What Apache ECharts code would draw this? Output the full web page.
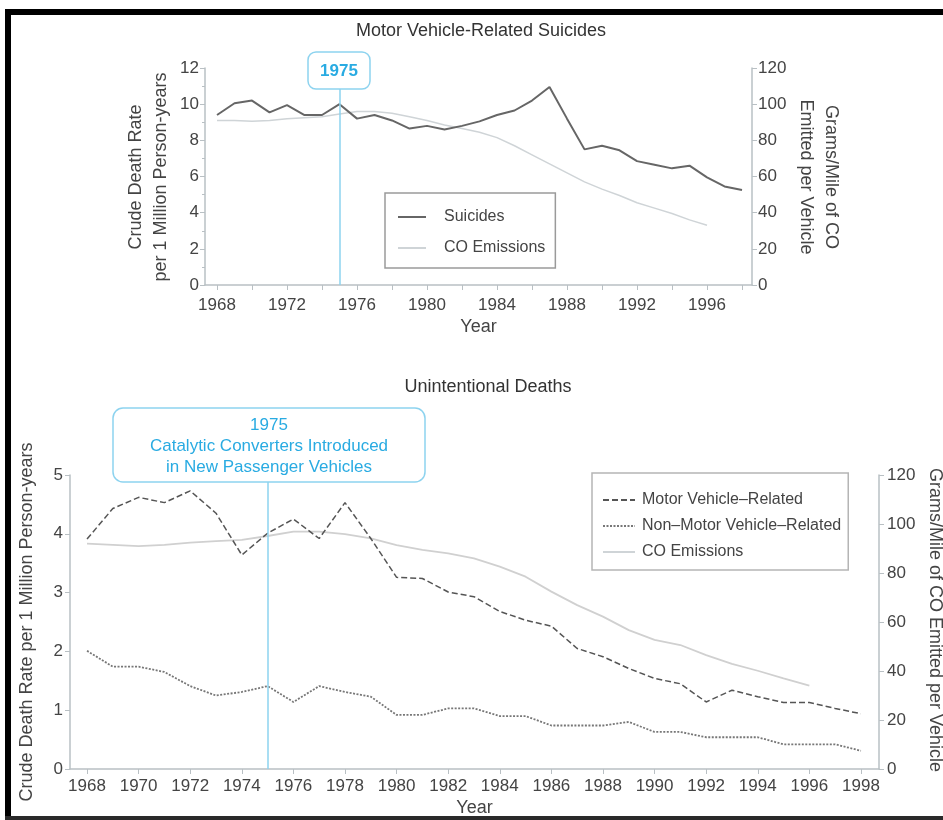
<!DOCTYPE html>
<html>
<head>
<meta charset="utf-8">
<script src="https://cdn.jsdelivr.net/npm/echarts@6/dist/echarts.min.js"></script>
<style>
html,body{margin:0;padding:0;background:#fff;}
#chart{width:943px;height:820px;}
</style>
</head>
<body>
<div id="chart"></div>
<script>
// ---- Data ----
const years = [1968,1969,1970,1971,1972,1973,1974,1975,1976,1977,1978,1979,1980,1981,1982,1983,1984,1985,1986,1987,1988,1989,1990,1991,1992,1993,1994,1995,1996,1997,1998];
const coYears = [1968,1969,1970,1971,1972,1973,1974,1975,1976,1977,1978,1979,1980,1981,1982,1983,1984,1985,1986,1987,1988,1989,1990,1991,1992,1993,1994,1995,1996];

// Top chart: Motor Vehicle-Related Suicides
const suicideRate = [9.4,10.05,10.2,9.55,9.95,9.4,9.4,10.0,9.2,9.4,9.1,8.65,8.8,8.6,8.8,9.05,9.4,9.65,10.2,10.95,9.2,7.5,7.7,7.45,6.85,6.65,6.45,6.6,5.95,5.45,5.25];
const suicideCO = [91,91,90.5,91,92,92.5,93,94.5,96,96,95,93,91,88.5,86.5,84.5,81.5,77,72,67,62,57,53,49.5,45.5,42.5,39.5,36,33];

// Bottom chart: Unintentional Deaths
const motorVehicle = [3.91,4.43,4.62,4.53,4.73,4.35,3.64,4.01,4.25,3.92,4.53,3.92,3.26,3.24,3.01,2.93,2.68,2.53,2.43,2.05,1.91,1.71,1.54,1.45,1.14,1.34,1.23,1.13,1.13,1.03,0.94];
const nonMotorVehicle = [2.01,1.74,1.74,1.65,1.41,1.25,1.31,1.41,1.14,1.41,1.31,1.23,0.92,0.92,1.03,1.03,0.9,0.9,0.74,0.74,0.74,0.8,0.63,0.63,0.54,0.54,0.54,0.42,0.42,0.42,0.31];
const deathsCO = [92,91.5,91,91.5,92.4,93,93.5,95.1,96.9,96.9,95.9,94.1,91.4,89.4,88,86,82.6,78.5,72.4,66.9,62.2,56.7,52.7,50.6,46.5,42.9,40.1,37,34];

// Tick labels
const topXTicks = [1968,1970,1972,1974,1976,1978,1980,1982,1984,1986,1988,1990,1992,1994,1996,1998];
const topXLabels = [1968,1972,1976,1980,1984,1988,1992,1996];
const botXTicks = [1968,1970,1972,1974,1976,1978,1980,1982,1984,1986,1988,1990,1992,1994,1996,1998];
const botXLabels = [1968,1970,1972,1974,1976,1978,1980,1982,1984,1986,1988,1990,1992,1994,1996,1998];

// Axis titles
const topLeftName = 'Crude Death Rate\nper 1 Million Person-years';
const topRightName = 'Grams/Mile of CO\nEmitted per Vehicle';
const botLeftName = 'Crude Death Rate per 1 Million Person-years';
const botRightName = 'Grams/Mile of CO Emitted per Vehicle';

const pairs = (xs, vs) => xs.map((x, i) => [x, vs[i]]);

const FONT = '"Liberation Sans", Arial, sans-serif';
const AXIS_COLOR = '#b9c0c4';
const LABEL_COLOR = '#444';
const BLUE_LINE = '#8dd3ef';
const BLUE_TEXT = '#29abe2';

function xAxisCfg(gridIndex, min, max, ticks, labels, margin, nameGap) {
  return {
    type: 'value', gridIndex, min, max,
    name: 'Year', nameLocation: 'middle', nameGap,
    nameTextStyle: {fontFamily: FONT, fontSize: 18, color: LABEL_COLOR},
    axisLine: {show: true, lineStyle: {color: AXIS_COLOR, width: 1.5}},
    axisTick: {show: true, length: 5, lineStyle: {color: AXIS_COLOR}, customValues: ticks},
    axisLabel: {fontFamily: FONT, fontSize: 17, color: LABEL_COLOR, margin, customValues: labels,
                formatter: v => String(Math.round(v))},
    splitLine: {show: false}
  };
}
function yAxisCfg(gridIndex, position, max, interval, margin, minor) {
  return {
    type: 'value', gridIndex, position, min: 0, max, interval,
    axisLine: {show: true, lineStyle: {color: AXIS_COLOR, width: 1.5}},
    axisTick: {show: true, length: 5, lineStyle: {color: AXIS_COLOR}},
    minorTick: {show: !!minor, splitNumber: 2, length: 3, lineStyle: {color: AXIS_COLOR}},
    axisLabel: {fontFamily: FONT, fontSize: 17, color: LABEL_COLOR, margin},
    splitLine: {show: false}
  };
}
function axisTitle(text, x, y, rot) {
  return {type: 'text', x, y, rotation: rot, silent: true, z: 50,
    style: {text, fill: LABEL_COLOR, font: '18px ' + FONT, lineHeight: 25, align: 'center', verticalAlign: 'middle'}};
}

const markLine1975 = {
  silent: true, symbol: ['none', 'none'], animation: false,
  label: {show: false},
  lineStyle: {color: BLUE_LINE, width: 1.5, type: 'solid'},
  data: [{xAxis: 1975}]
};

const option = {
  animation: false,
  backgroundColor: '#fff',
  title: [
    {text: 'Motor Vehicle-Related Suicides', left: 476, top: 17, textAlign: 'center',
     textStyle: {fontFamily: FONT, fontSize: 18, fontWeight: 'normal', color: '#333'}},
    {text: 'Unintentional Deaths', left: 483, top: 373, textAlign: 'center',
     textStyle: {fontFamily: FONT, fontSize: 18, fontWeight: 'normal', color: '#333'}}
  ],
  grid: [
    {left: 205, top: 68, width: 547, height: 217, outerBoundsMode: 'none', containLabel: false},
    {left: 70, top: 475, width: 809, height: 294, outerBoundsMode: 'none', containLabel: false}
  ],
  xAxis: [
    xAxisCfg(0, 1967.314, 1998.571, topXTicks, topXLabels, 12, 33),
    xAxisCfg(1, 1967.34, 1998.7, botXTicks, botXLabels, 9, 30)
  ],
  yAxis: [
    yAxisCfg(0, 'left', 12, 2, 6, true),
    yAxisCfg(0, 'right', 120, 20, 6, false),
    yAxisCfg(1, 'left', 5, 1, 7, false),
    yAxisCfg(1, 'right', 120, 20, 8, false)
  ],
  legend: [
    {
      data: ['Suicides', 'CO Emissions'],
      orient: 'vertical', left: 385, top: 193,
      padding: [15, 10, 11, 12], itemGap: 13, itemWidth: 28, itemHeight: 14,
      itemStyle: {opacity: 0},
      borderColor: '#9a9a9a', borderWidth: 1.5, selectedMode: false,
      textStyle: {fontFamily: FONT, fontSize: 16, color: LABEL_COLOR, lineHeight: 18, padding: [0, 0, 0, 13]}
    },
    {
      data: ['Motor Vehicle\u2013Related', 'Non\u2013Motor Vehicle\u2013Related', 'CO Emissions'],
      orient: 'vertical', left: 592, top: 473,
      padding: [18, 7, 9, 10], itemGap: 8, itemWidth: 32, itemHeight: 14,
      itemStyle: {opacity: 0},
      borderColor: '#b5b5b5', borderWidth: 1.5, selectedMode: false,
      textStyle: {fontFamily: FONT, fontSize: 16, color: LABEL_COLOR, lineHeight: 18, padding: [0, 0, 0, 2]}
    }
  ],
  series: [
    {
      name: 'Suicides', type: 'line', xAxisIndex: 0, yAxisIndex: 0,
      symbol: 'none', data: pairs(years, suicideRate),
      lineStyle: {color: '#666', width: 2}, itemStyle: {color: '#666'},
      markLine: markLine1975, z: 3
    },
    {
      name: 'CO Emissions', type: 'line', xAxisIndex: 0, yAxisIndex: 1,
      symbol: 'none', data: pairs(coYears, suicideCO),
      lineStyle: {color: '#cfd4d7', width: 1.5}, itemStyle: {color: '#cfd4d7'}, z: 2
    },
    {
      name: 'Motor Vehicle\u2013Related', type: 'line', xAxisIndex: 1, yAxisIndex: 2,
      symbol: 'none', data: pairs(years, motorVehicle),
      lineStyle: {color: '#555', width: 1.5, type: [6, 3]}, itemStyle: {color: '#555'},
      markLine: markLine1975, z: 3
    },
    {
      name: 'Non\u2013Motor Vehicle\u2013Related', type: 'line', xAxisIndex: 1, yAxisIndex: 2,
      symbol: 'none', data: pairs(years, nonMotorVehicle),
      lineStyle: {color: '#777', width: 1.8, type: [2, 1.5]}, itemStyle: {color: '#777'}, z: 3
    },
    {
      name: 'CO Emissions', type: 'line', xAxisIndex: 1, yAxisIndex: 3,
      symbol: 'none', data: pairs(coYears, deathsCO),
      lineStyle: {color: '#d0d0d0', width: 1.8}, itemStyle: {color: '#d0d0d0'}, z: 2
    }
  ],
  graphic: [
    // axis titles
    axisTitle(topLeftName, 148.5, 177, Math.PI / 2),
    axisTitle(topRightName, 818.5, 177, -Math.PI / 2),
    axisTitle(botLeftName, 27, 622, Math.PI / 2),
    axisTitle(botRightName, 935, 620, -Math.PI / 2),
    // frame
    {type: 'rect', shape: {x: 5, y: 9, width: 938, height: 6}, style: {fill: '#000'}, z: 200, silent: true},
    {type: 'rect', shape: {x: 5, y: 9, width: 6, height: 811}, style: {fill: '#000'}, z: 200, silent: true},
    {type: 'rect', shape: {x: 5, y: 816, width: 938, height: 4}, style: {fill: '#2a2a2a'}, z: 200, silent: true},
    // top callout
    {type: 'rect', shape: {x: 308, y: 52, width: 62, height: 37, r: 8},
     style: {fill: '#fff', stroke: BLUE_LINE, lineWidth: 1.5}, z: 100, silent: true},
    {type: 'text', x: 339, y: 71, z: 101, silent: true,
     style: {text: '1975', fill: BLUE_TEXT, font: 'bold 17px ' + FONT, align: 'center', verticalAlign: 'middle'}},
    // bottom callout
    {type: 'rect', shape: {x: 113, y: 408, width: 312, height: 74, r: 10},
     style: {fill: '#fff', stroke: BLUE_LINE, lineWidth: 1.5}, z: 100, silent: true},
    {type: 'text', x: 269, y: 446, z: 101, silent: true,
     style: {text: '1975\nCatalytic Converters Introduced\nin New Passenger Vehicles',
             fill: BLUE_TEXT, font: '17px ' + FONT, lineHeight: 21, align: 'center', verticalAlign: 'middle'}}
  ]
};

const chart = echarts.init(document.getElementById('chart'));
chart.setOption(option);
</script>
</body>
</html>
